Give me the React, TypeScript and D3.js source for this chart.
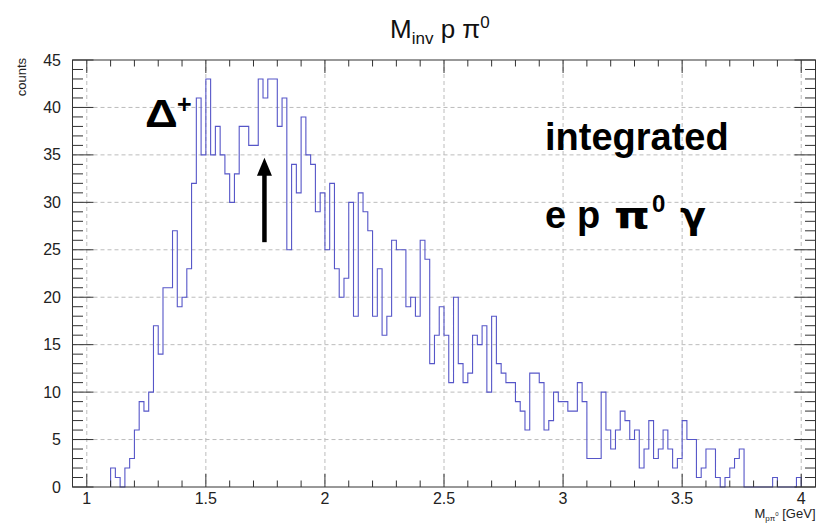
import React from 'react';
import * as d3 from 'd3';

// histogram binning (GeV): bins of 0.02 starting at 1.10
const binLow = 1.1;
const binWidth = 0.02;

// counts per bin, 1.10 ... 3.98
const counts = [
  2, 1, 0, 2, 3, 6, 9, 8, 10, 17,
  14, 21, 21, 27, 19, 20, 23, 32, 41, 35,
  43, 35, 38, 35, 33, 30, 33, 38, 38, 36,
  36, 43, 41, 43, 43, 38, 41, 25, 34, 31,
  39, 35, 34, 29, 31, 25, 32, 23, 20, 22,
  30, 18, 31, 29, 27, 18, 23, 16, 18, 26,
  25, 25, 19, 20, 18, 26, 24, 13, 16, 19,
  16, 11, 20, 13, 11, 12, 16, 15, 17, 10,
  18, 13, 12, 11, 11, 9, 8, 6, 12, 12,
  11, 6, 7, 10, 9, 9, 8, 8, 11, 9,
  3, 3, 3, 10, 6, 4, 6, 8, 7, 5,
  6, 2, 4, 7, 3, 4, 6, 4, 2, 3,
  7, 5, 5, 1, 2, 4, 4, 1, 0, 1,
  2, 3, 4, 0, 0, 0, 0, 0, 0, 1,
  0, 0, 0, 0, 1,
];

const xMajor = [1, 1.5, 2, 2.5, 3, 3.5, 4];
const xMajorLabels = ['1', '1.5', '2', '2.5', '3', '3.5', '4'];
const yMajor = [0, 5, 10, 15, 20, 25, 30, 35, 40, 45];

// arrow marking the peak, in data units
const arrowX = 1.746;
const arrowFrom = 25.8;
const arrowTo = 34.7;

const W = 819;
const H = 523;
const frame = { left: 72.5, right: 815.5, top: 60, bottom: 487 };
const font = "'Liberation Sans', Arial, Helvetica, sans-serif";
const greek = "'DejaVu Sans', sans-serif";

export default function App() {
  const x = d3.scaleLinear().domain([0.94, 4.06]).range([frame.left, frame.right]);
  const y = d3.scaleLinear().domain([0, 45]).range([frame.bottom, frame.top]);

  const pts: [number, number][] = [[binLow, 0]];
  counts.forEach((c, i) => pts.push([binLow + i * binWidth, c]));
  pts.push([binLow + counts.length * binWidth, 0]);
  const step = d3.line<[number, number]>()
    .x(d => x(d[0]))
    .y(d => y(d[1]))
    .curve(d3.curveStepAfter);

  const xMinor = d3.range(10, 41).map(v => v / 10).filter(v => !xMajor.includes(v));
  const yMinor = d3.range(0, 46).filter(v => v % 5 !== 0);

  const axisCol = '#333';
  const gridCol = '#bcbcbc';
  const ax = x(arrowX);

  return (
    <svg width={W} height={H} style={{ position: 'absolute', left: 0, top: 0, background: '#fff' }}
      fontFamily={font}>
      {/* grid */}
      {xMajor.map(v => (
        <line key={'gx' + v} x1={x(v)} x2={x(v)} y1={frame.top} y2={frame.bottom}
          stroke={gridCol} strokeDasharray="4,3" />
      ))}
      {yMajor.slice(1, -1).map(v => (
        <line key={'gy' + v} x1={frame.left} x2={frame.right} y1={y(v)} y2={y(v)}
          stroke={gridCol} strokeDasharray="4,3" />
      ))}

      {/* histogram */}
      <path d={step(pts) || ''} fill="none" stroke="#5656c8" strokeWidth={1.1} />

      {/* frame */}
      <rect x={frame.left} y={frame.top} width={frame.right - frame.left}
        height={frame.bottom - frame.top} fill="none" stroke={axisCol} strokeWidth={1} />

      {/* x ticks, bottom and top */}
      {xMajor.map(v => (
        <g key={'xt' + v}>
          <line x1={x(v)} x2={x(v)} y1={frame.bottom} y2={frame.bottom - 13} stroke={axisCol} />
          <line x1={x(v)} x2={x(v)} y1={frame.top} y2={frame.top + 13} stroke={axisCol} />
        </g>
      ))}
      {xMinor.map(v => (
        <g key={'xm' + v}>
          <line x1={x(v)} x2={x(v)} y1={frame.bottom} y2={frame.bottom - 6.5} stroke={axisCol} />
          <line x1={x(v)} x2={x(v)} y1={frame.top} y2={frame.top + 6.5} stroke={axisCol} />
        </g>
      ))}
      {/* y ticks, left and right */}
      {yMajor.map(v => (
        <g key={'yt' + v}>
          <line x1={frame.left} x2={frame.left + 21} y1={y(v)} y2={y(v)} stroke={axisCol} />
          <line x1={frame.right} x2={frame.right - 21} y1={y(v)} y2={y(v)} stroke={axisCol} />
        </g>
      ))}
      {yMinor.map(v => (
        <g key={'ym' + v}>
          <line x1={frame.left} x2={frame.left + 10.5} y1={y(v)} y2={y(v)} stroke={axisCol} />
          <line x1={frame.right} x2={frame.right - 10.5} y1={y(v)} y2={y(v)} stroke={axisCol} />
        </g>
      ))}

      {/* tick labels */}
      {xMajor.map((v, i) => (
        <text key={'xl' + v} x={x(v)} y={504} textAnchor="middle" fontSize={16} fill="#222">
          {xMajorLabels[i]}
        </text>
      ))}
      {yMajor.map(v => (
        <text key={'yl' + v} x={61} y={y(v) + 5.5} textAnchor="end" fontSize={16} fill="#222">
          {v}
        </text>
      ))}

      {/* axis titles */}
      <text x={frame.right} y={518} textAnchor="end" fontSize={13} fill="#222">
        M<tspan fontSize={8} dy={3}>pπ</tspan><tspan fontSize={6} dy={-5}>0</tspan>
        <tspan dy={2}> [GeV]</tspan>
      </text>
      <text transform={`translate(26,${frame.top - 2}) rotate(-90)`} textAnchor="end"
        fontSize={13} fill="#222">counts</text>

      {/* title */}
      <text x={390} y={38} fontSize={26} fill="#111">
        M<tspan fontSize={17} dy={6}>inv</tspan><tspan dy={-6}> p π</tspan>
        <tspan fontSize={17} dy={-10}>0</tspan>
      </text>

      {/* annotations */}
      <text transform="translate(145,127) scale(1.2,1)" fontSize={38} fontWeight="bold" fill="#000">Δ</text>
      <text x={177} y={113} fontSize={25} fontWeight="bold" fill="#000">+</text>
      <text x={545} y={150} fontSize={38} fontWeight="bold" fill="#000">integrated</text>
      <g fontSize={38} fontWeight="bold" fill="#000">
        <text x={545} y={228}>e</text>
        <text x={577} y={228}>p</text>
        <text transform="translate(614,228) scale(1.2,1)" fontFamily={greek}>π</text>
        <text x={652} y={212} fontSize={24}>0</text>
        <text x={680} y={228} fontFamily={greek}>γ</text>
      </g>

      {/* arrow */}
      <line x1={ax} x2={ax} y1={y(arrowFrom)} y2={y(arrowTo) + 16} stroke="#000" strokeWidth={4.5} />
      <path d={`M${ax},${y(arrowTo)} L${ax - 7.5},${y(arrowTo) + 18} L${ax + 7.5},${y(arrowTo) + 18} Z`}
        fill="#000" />
    </svg>
  );
}
